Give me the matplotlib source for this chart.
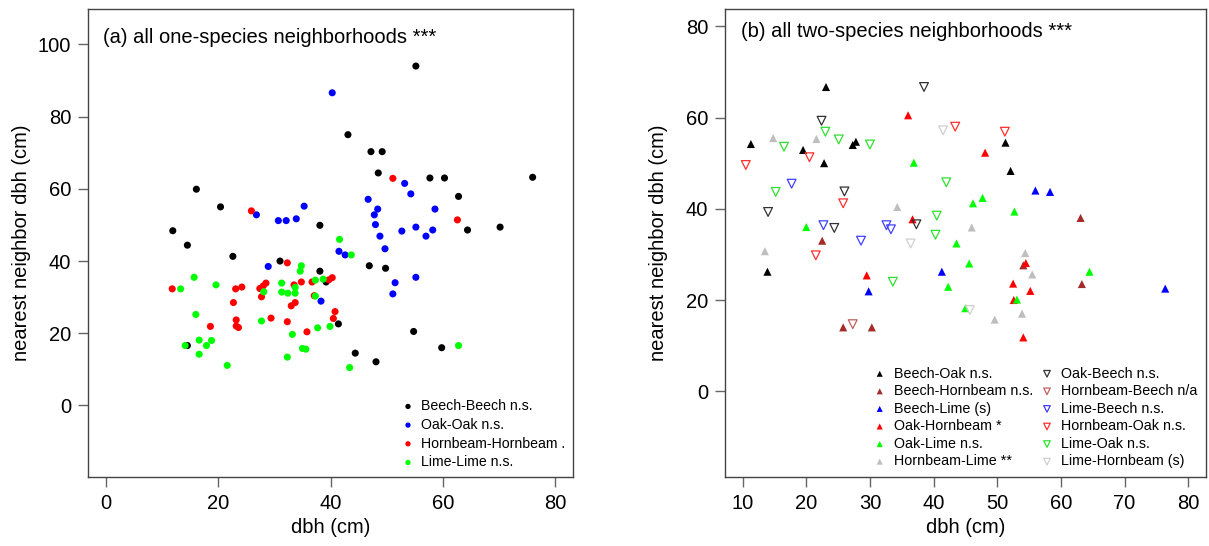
import matplotlib
matplotlib.use("Agg")
import matplotlib.pyplot as plt

plt.rcParams['font.family'] = ['Liberation Sans', 'DejaVu Sans']

# ---- panel (a): one-species neighborhoods ----
bb_x = [16.1, 20.4, 11.9, 14.5, 22.6, 31.0, 38.1, 38.1, 39.2, 41.4, 43.1, 47.2, 49.2, 48.5,
        57.7, 60.3, 76.0, 62.8, 55.2, 64.4, 70.2, 46.9, 49.8, 54.8, 59.8, 44.4, 48.1, 14.5]
bb_y = [59.9, 55.0, 48.4, 44.4, 41.3, 40.0, 49.9, 37.2, 34.2, 22.6, 75.0, 70.3, 70.3, 64.4,
        63.0, 63.0, 63.2, 57.9, 94.0, 48.6, 49.4, 38.7, 38.0, 20.5, 16.0, 14.5, 12.1, 16.6]
oo_x = [26.8, 30.7, 32.1, 40.3, 53.2, 54.3, 46.7, 48.4, 47.8, 58.6, 48.0, 35.3, 33.9,
        55.2, 58.2, 52.7, 48.8, 57.0, 41.5, 42.6, 49.7, 51.5, 55.2, 51.1, 38.3, 28.9]
oo_y = [52.8, 51.2, 51.2, 86.6, 61.5, 58.6, 57.1, 54.4, 52.8, 54.4, 50.1, 55.2, 51.7,
        49.4, 48.6, 48.3, 46.9, 46.9, 42.7, 41.7, 43.4, 34.0, 35.5, 30.9, 28.9, 38.5]
hh_x = [25.9, 51.1, 62.6, 32.3, 33.5, 34.8, 36.7, 39.7, 40.3, 37.1, 33.7, 33.0, 40.8, 40.5,
        32.3, 35.8, 11.8, 23.1, 24.2, 27.4, 28.0, 28.5, 27.7, 22.7, 23.2, 23.2, 23.6, 29.4, 18.6]
hh_y = [53.9, 62.9, 51.4, 39.5, 33.4, 34.2, 34.2, 34.8, 35.4, 30.4, 28.5, 27.6, 26.0, 24.1,
        23.2, 20.4, 32.3, 32.3, 32.8, 32.4, 33.1, 33.9, 30.1, 28.5, 23.7, 22.0, 21.6, 24.2, 21.9]
ll_x = [41.6, 43.7, 34.8, 34.6, 31.3, 37.3, 38.7, 33.7, 31.3, 32.4, 33.7, 37.3, 33.2, 37.7,
        39.9, 35.0, 35.6, 32.3, 62.8, 43.4, 15.7, 13.3, 19.6, 28.1, 16.0, 27.7, 16.6, 18.8,
        17.9, 14.1, 16.6, 21.6]
ll_y = [46.0, 41.7, 38.7, 37.2, 33.9, 34.7, 35.0, 32.7, 31.4, 31.1, 31.1, 30.3, 19.7, 21.5,
        21.9, 15.8, 15.6, 13.4, 16.6, 10.5, 35.5, 32.3, 33.4, 31.5, 25.2, 23.4, 18.1, 18.0,
        16.6, 16.6, 14.2, 11.1]

one_labels = ['Beech-Beech n.s.', 'Oak-Oak n.s.', 'Hornbeam-Hornbeam .', 'Lime-Lime n.s.']

# ---- panel (b): two-species neighborhoods ----
bo_x = [23.1, 27.8, 27.3, 11.3, 19.5, 22.8, 51.3, 52.1, 13.9]
bo_y = [66.7, 54.7, 54.0, 54.2, 52.9, 50.0, 54.5, 48.3, 26.2]
bh_x = [22.5, 25.8, 30.3, 63.1, 54.1, 63.3]
bh_y = [33.0, 14.0, 14.0, 38.0, 27.6, 23.5]
bl_x = [56.0, 58.3, 29.8, 41.3, 76.4]
bl_y = [44.0, 43.7, 21.9, 26.2, 22.5]
oh_x = [36.0, 48.1, 36.7, 29.5, 54.5, 52.5, 55.2, 52.6, 54.1]
oh_y = [60.5, 52.3, 37.7, 25.4, 28.1, 23.6, 22.0, 20.0, 11.8]
ol_x = [36.9, 47.7, 46.2, 52.7, 20.0, 43.6, 42.3, 45.6, 64.5, 53.1, 45.0]
ol_y = [50.1, 42.4, 41.2, 39.4, 36.0, 32.4, 22.9, 28.0, 26.2, 20.1, 18.2]
hl_x = [14.8, 21.6, 34.3, 46.0, 13.5, 54.4, 55.5, 53.9, 49.6]
hl_y = [55.5, 55.3, 40.4, 35.9, 30.7, 30.3, 25.6, 17.0, 15.7]
ob_x = [38.5, 22.4, 26.0, 14.0, 37.3, 24.4]
ob_y = [66.7, 59.3, 43.8, 39.3, 36.6, 35.8]
hb_x = [27.3]
hb_y = [14.7]
lb_x = [17.7, 22.7, 32.6, 33.3, 28.6]
lb_y = [45.5, 36.4, 36.4, 35.5, 33.0]
ho_x = [20.5, 10.5, 43.4, 51.2, 25.8, 21.5]
ho_y = [51.3, 49.6, 58.0, 56.9, 41.2, 29.8]
lo_x = [23.0, 25.1, 30.0, 16.5, 42.0, 15.2, 40.5, 40.3, 33.6]
lo_y = [56.9, 55.2, 54.1, 53.6, 45.8, 43.7, 38.5, 34.3, 24.0]
lh_x = [41.5, 36.4, 45.7]
lh_y = [57.2, 32.4, 17.8]

up_labels = ['Beech-Oak n.s.', 'Beech-Hornbeam n.s.', 'Beech-Lime (s)',
             'Oak-Hornbeam *', 'Oak-Lime n.s.', 'Hornbeam-Lime **']
down_labels = ['Oak-Beech n.s.', 'Hornbeam-Beech n/a', 'Lime-Beech n.s.',
               'Hornbeam-Oak n.s.', 'Lime-Oak n.s.', 'Lime-Hornbeam (s)']

cols = ['black', '#A52A2A', 'blue', 'red', '#00FF00', '#BEBEBE']
cols4 = ['black', 'blue', 'red', '#00FF00']
open_cols = ['#333333', '#C06060', '#4040FF', '#FF3030', '#30E030', '#D0D0D0']

fig = plt.figure(figsize=(12.09, 5.46), dpi=100)
ax1 = fig.add_axes([0.0728, 0.1264, 0.4012, 0.8571])
ax2 = fig.add_axes([0.5995, 0.1264, 0.3980, 0.8571])


def style(ax):
    for s in ax.spines.values():
        s.set_color('#444444')
        s.set_linewidth(1.0)
    ax.tick_params(direction='out', length=7, width=1, color='#666666',
                   labelsize=14.5, pad=5)
    ax.set_xlabel('dbh (cm)', fontsize=14.5, labelpad=4)
    ax.set_ylabel('nearest neighbor dbh (cm)', fontsize=14.5)
    ax.yaxis.set_label_coords(-0.118, 0.5)


# panel a
series_a = [(bb_x, bb_y), (oo_x, oo_y), (hh_x, hh_y), (ll_x, ll_y)]
for (xs, ys), c, lab in zip(series_a, cols4, one_labels):
    ax1.scatter(xs, ys, s=26, color=c, marker='o', edgecolors='none', label=lab)
ax1.set_xlim(-3.2, 83.2)
ax1.set_ylim(-19.8, 109.8)
ax1.set_xticks([0, 20, 40, 60, 80])
ax1.set_yticks([0, 20, 40, 60, 80, 100])
style(ax1)
ax1.text(0.031, 0.94, '(a) all one-species neighborhoods ***', transform=ax1.transAxes,
         fontsize=14.5, va='center', ha='left')
ax1.legend(loc='lower right', bbox_to_anchor=(1.0, 0.0), frameon=False, fontsize=10.2,
           handletextpad=0.12, labelspacing=0.33, markerscale=0.75, borderaxespad=0.15,
           handlelength=1.6)

# panel b
series_up = [(bo_x, bo_y), (bh_x, bh_y), (bl_x, bl_y), (oh_x, oh_y), (ol_x, ol_y), (hl_x, hl_y)]
series_dn = [(ob_x, ob_y), (hb_x, hb_y), (lb_x, lb_y), (ho_x, ho_y), (lo_x, lo_y), (lh_x, lh_y)]
h_up, h_dn = [], []
for (xs, ys), c, lab in zip(series_up, cols, up_labels):
    h_up.append(ax2.scatter(xs, ys, s=34, color=c, marker='^', edgecolors='none', label=lab))
for (xs, ys), c, lab in zip(series_dn, open_cols, down_labels):
    h_dn.append(ax2.scatter(xs, ys, s=40, facecolors='none', edgecolors=c, marker='v',
                            linewidths=0.9, label=lab))
ax2.set_xlim(7.2, 82.8)
ax2.set_ylim(-18.8, 83.8)
ax2.set_xticks([10, 20, 30, 40, 50, 60, 70, 80])
ax2.set_yticks([0, 20, 40, 60, 80])
style(ax2)
ax2.text(0.033, 0.952, '(b) all two-species neighborhoods ***', transform=ax2.transAxes,
         fontsize=14.5, va='center', ha='left')
ax2.legend(handles=h_up + h_dn, ncol=2, loc='lower right', bbox_to_anchor=(1.0, 0.0),
           frameon=False, fontsize=10.3, handletextpad=0.18, labelspacing=0.25,
           columnspacing=0.18, markerscale=0.75, borderaxespad=0.2, handlelength=1.6)

fig.savefig('out.png', dpi=100)
